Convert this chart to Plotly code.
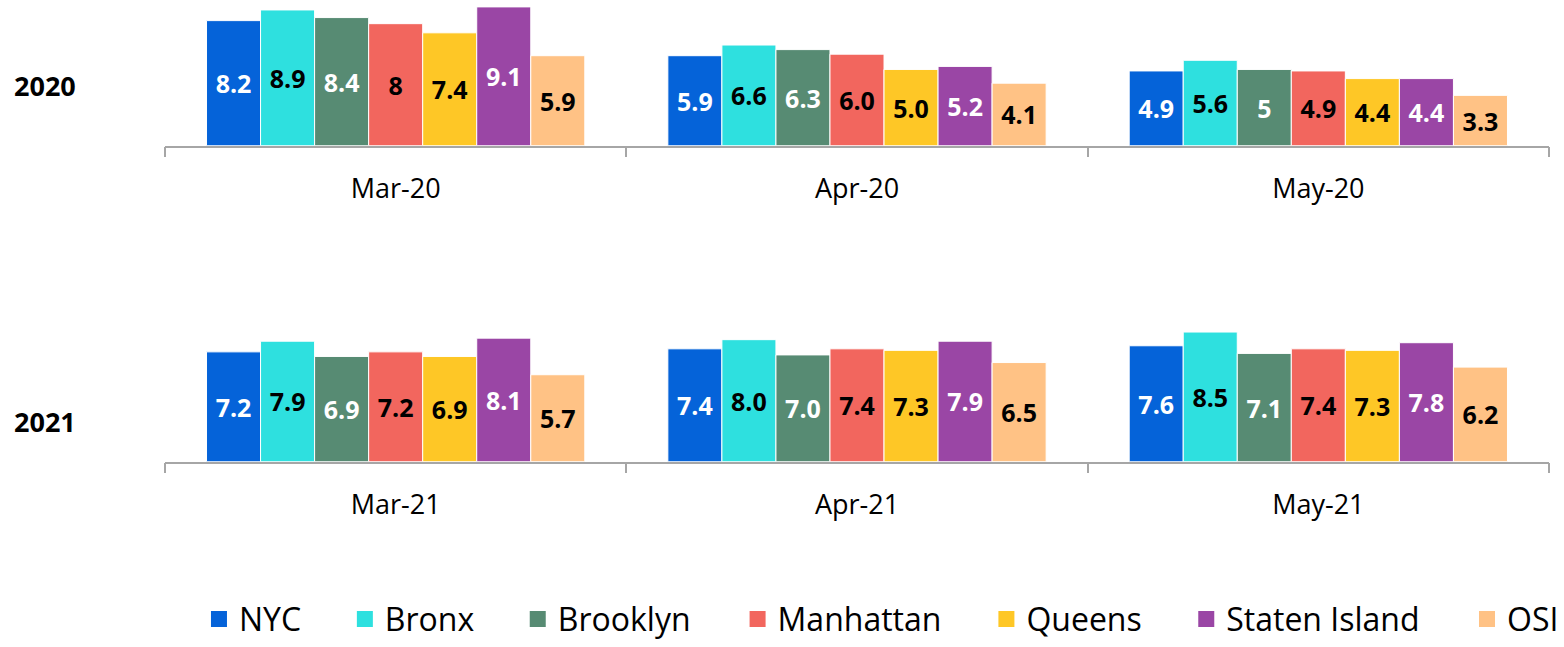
import plotly.graph_objects as go

# Categorias e séries (strings preservam o rótulo exibido)
meses_2020 = ["Mar-20", "Apr-20", "May-20"]
meses_2021 = ["Mar-21", "Apr-21", "May-21"]

series = ["NYC", "Bronx", "Brooklyn", "Manhattan", "Queens", "Staten Island", "OSI"]

nyc_2020 = ["8.2", "5.9", "4.9"]
bronx_2020 = ["8.9", "6.6", "5.6"]
brooklyn_2020 = ["8.4", "6.3", "5"]
manhattan_2020 = ["8", "6.0", "4.9"]
queens_2020 = ["7.4", "5.0", "4.4"]
staten_2020 = ["9.1", "5.2", "4.4"]
osi_2020 = ["5.9", "4.1", "3.3"]

nyc_2021 = ["7.2", "7.4", "7.6"]
bronx_2021 = ["7.9", "8.0", "8.5"]
brooklyn_2021 = ["6.9", "7.0", "7.1"]
manhattan_2021 = ["7.2", "7.4", "7.4"]
queens_2021 = ["6.9", "7.3", "7.3"]
staten_2021 = ["8.1", "7.9", "7.8"]
osi_2021 = ["5.7", "6.5", "6.2"]

anos = ["2020", "2021"]

valores_2020 = [nyc_2020, bronx_2020, brooklyn_2020, manhattan_2020,
                queens_2020, staten_2020, osi_2020]
valores_2021 = [nyc_2021, bronx_2021, brooklyn_2021, manhattan_2021,
                queens_2021, staten_2021, osi_2021]

CORES = ["#0563D9", "#2EE0DF", "#578B73", "#F2665E", "#FEC726", "#9A46A5", "#FFC285"]
COR_TEXTO = ["white", "black", "white", "black", "black", "white", "black"]
FONTE = "Open Sans"

# A figura ocupa a janela inteira (margem do <body> zerada via post_script).
W, H = 1564, 647
ML = 165
MR = W - 1550
PW = W - ML - MR
# Ajuste vertical medido na captura (a página sai ~1,4% mais alta que a janela)
K_Y = 0.986


def px_x(p):  # coordenada x da janela -> paper
    return (p - ML) / PW


def px_y(p):  # coordenada y da janela -> paper
    return min(1.0, 1 - (p / K_Y) / H)


# Posição (x na janela) de cada item da legenda
LEGENDA_X = [199, 345, 518, 738, 987, 1187, 1468]

fig = go.Figure()

for i, nome in enumerate(series):
    for meses, vals, xa, ya in [
        (meses_2020, valores_2020[i], "x", "y"),
        (meses_2021, valores_2021[i], "x2", "y2"),
    ]:
        fig.add_trace(go.Bar(
            x=meses, y=[float(v) for v in vals], text=vals,
            name=nome, showlegend=False,
            xaxis=xa, yaxis=ya,
            marker=dict(color=CORES[i], line=dict(color="white", width=1)),
            textposition="inside", insidetextanchor="middle", textangle=0,
            constraintext="none",
            insidetextfont=dict(family=FONTE, size=25, color=COR_TEXTO[i], weight="bold"),
            hoverinfo="skip",
        ))
    # item de legenda (quadrado maior que o símbolo padrão de barra)
    leg_id = "legend" if i == 0 else f"legend{i + 1}"
    fig.add_trace(go.Scatter(
        x=[None], y=[None], mode="markers", name=nome, legend=leg_id,
        marker=dict(symbol="square", size=20, color=CORES[i]),
        xaxis="x", yaxis="y", hoverinfo="skip",
    ))

eixo_x = dict(
    type="category", showline=True, linecolor="#A6A6A6", linewidth=1.5,
    ticks="outside", tickson="boundaries", ticklen=10, tickcolor="#A6A6A6",
    tickwidth=1.5, ticklabelstandoff=18,
    tickfont=dict(family=FONTE, size=27, color="black"), showgrid=False,
)
eixo_y = dict(visible=False, range=[0, 9.1], fixedrange=True)

legendas = {}
for i in range(len(series)):
    chave = "legend" if i == 0 else f"legend{i + 1}"
    legendas[chave] = dict(
        orientation="h", x=px_x(LEGENDA_X[i]), xanchor="left",
        y=px_y(629), yanchor="middle", itemwidth=30,
        font=dict(family=FONTE, size=32, color="black"),
        bgcolor="rgba(0,0,0,0)",
    )

fig.update_layout(
    width=W, height=H,
    margin=dict(l=ML, r=MR, t=0, b=0),
    plot_bgcolor="white", paper_bgcolor="white",
    barmode="group", bargap=0.18, bargroupgap=0,
    xaxis=dict(eixo_x, anchor="y"),
    yaxis=dict(eixo_y, domain=[px_y(148), px_y(7)]),
    xaxis2=dict(eixo_x, anchor="y2"),
    yaxis2=dict(eixo_y, domain=[px_y(469), px_y(328)]),
    annotations=[
        dict(text=anos[0], xref="paper", yref="paper", x=px_x(12), y=px_y(87),
             xanchor="left", yanchor="middle", showarrow=False,
             font=dict(family=FONTE, size=27, color="black", weight="bold")),
        dict(text=anos[1], xref="paper", yref="paper", x=px_x(12), y=px_y(428),
             xanchor="left", yanchor="middle", showarrow=False,
             font=dict(family=FONTE, size=27, color="black", weight="bold")),
    ],
    **legendas,
)

fig.write_html(
    "out.html",
    config={"displayModeBar": False},
    post_script=(
        "document.documentElement.style.overflow='hidden';"
        "document.body.style.margin='0';"
        "document.body.style.overflow='hidden';"
    ),
)
